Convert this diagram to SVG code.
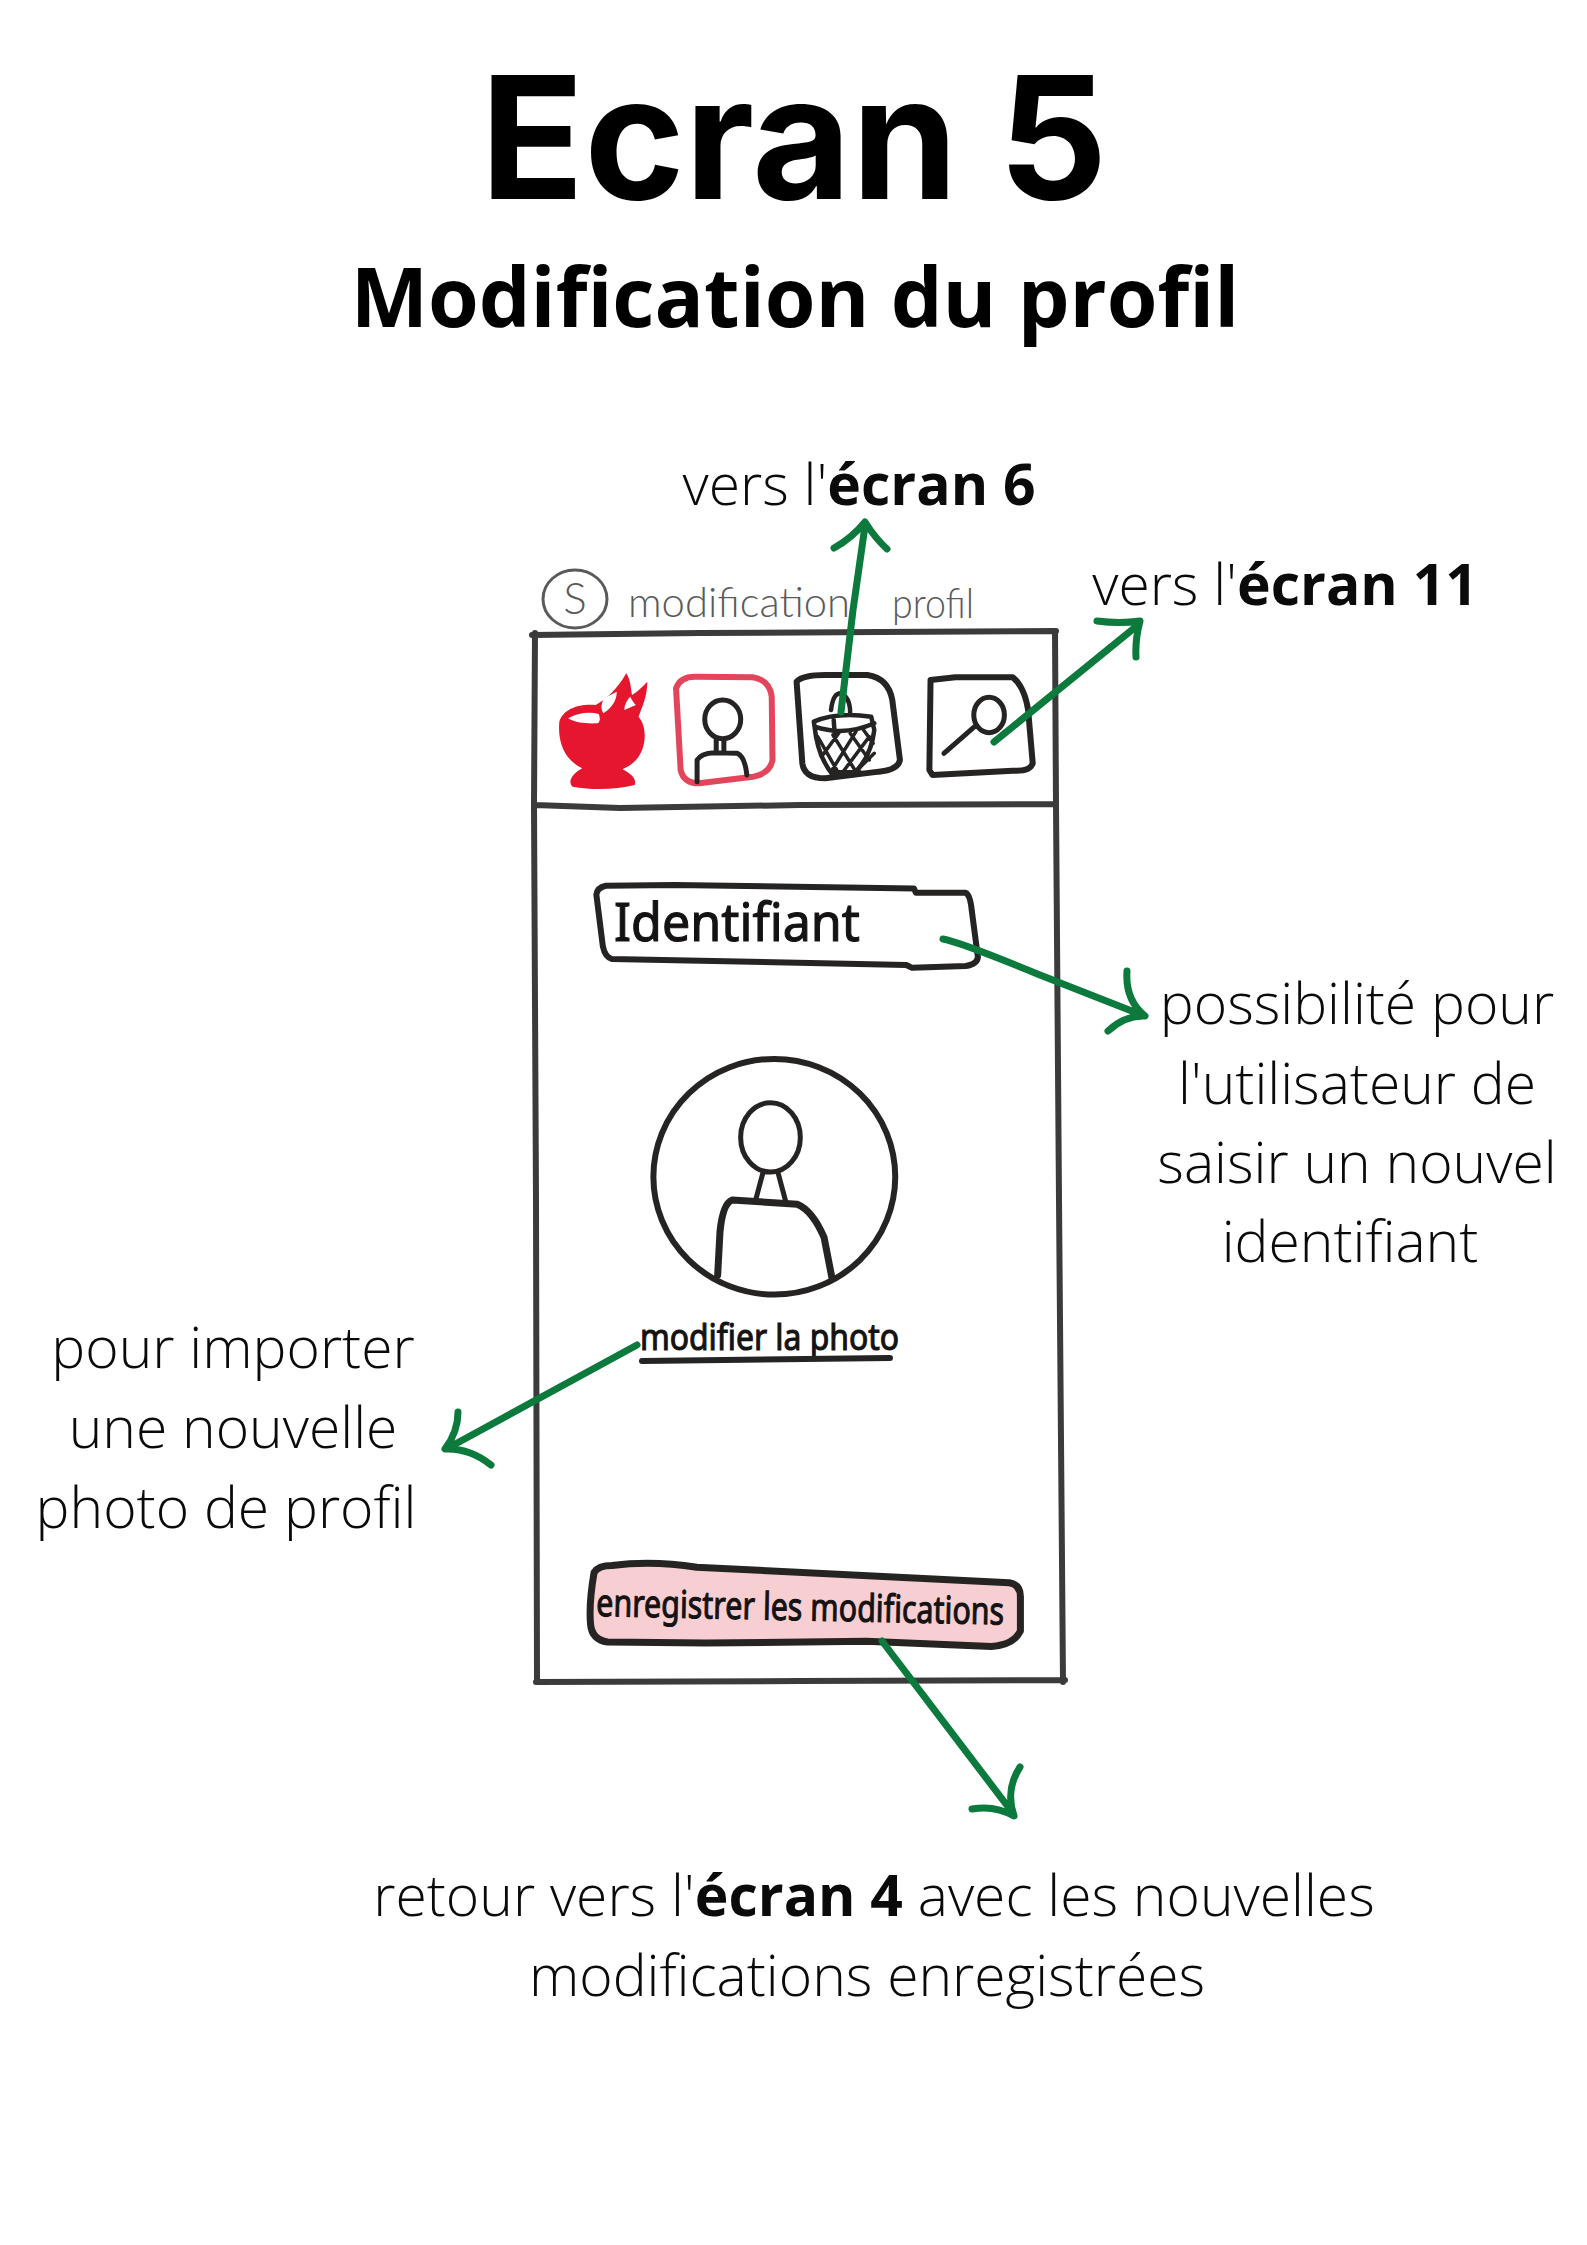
<svg xmlns="http://www.w3.org/2000/svg" width="1587" height="2245" viewBox="0 0 1587 2245">
<style>
.lbl{font-family:"Open Sans","Noto Sans",sans-serif;font-weight:300;font-size:57px;fill:#0a0a0a;text-anchor:middle}
.lbl tspan{font-weight:700}
.ink{fill:none;stroke:#262323;stroke-width:6;stroke-linecap:round;stroke-linejoin:round;vector-effect:non-scaling-stroke}
.wall{stroke:#3c3b3b}
.red{stroke:#e3465a}
.hand{font-family:"Noto Sans",sans-serif;fill:#141212;stroke:#141212;stroke-width:1.1}
.pencil{font-family:"Lato","Noto Sans",sans-serif;font-weight:300;fill:#5a5a5a;stroke:none}
.arrow{fill:none;stroke:#0b7a3c;stroke-width:7;stroke-linecap:round;stroke-linejoin:round}
</style>
<rect width="1587" height="2245" fill="#fff"/>
<g id="title"><text x="794" y="199" text-anchor="middle" font-family="Inter,'Liberation Sans',sans-serif" font-weight="700" font-size="171" fill="#000">Ecran 5</text>
<text x="795" y="327" text-anchor="middle" font-family="'Open Sans','Noto Sans',sans-serif" font-weight="700" font-size="82" fill="#000">Modification du profil</text></g>

<g id="phone">
<path class="ink wall" d="M532 635 L700 633 L880 632 L1056 631 M535 633 L534 805 L536 1200 L537 1682 M1055 631 L1056 805 L1059 1200 L1063 1682 M535 805 L620 808 L800 805 L1056 804 M536 1682 L800 1681 L1065 1680"/>
</g>
<g id="screen-title">
<ellipse class="ink" cx="575" cy="599" rx="32" ry="29" style="stroke:#5a5a5a;stroke-width:3"/>
<text x="575" y="614" text-anchor="middle" class="pencil" font-size="44">S</text>
<text x="628" y="617" class="pencil" font-size="42" textLength="222" lengthAdjust="spacingAndGlyphs">modification</text>
<text x="892" y="618" class="pencil" font-size="42" textLength="82" lengthAdjust="spacingAndGlyphs">profil</text>
</g>
<g id="icon-mortar" transform="translate(500 540) scale(.3827 .3333)">
<path d="M155 545 C165 505 210 490 250 495 C275 480 305 450 330 400 C342 420 342 450 345 465 C360 455 372 440 385 425 C385 470 370 505 362 530 C385 560 382 620 362 650 C350 670 335 680 320 688 C340 700 358 715 352 735 C300 750 240 750 190 740 C175 725 190 700 215 685 C170 660 150 610 155 545Z" fill="#e5162e"/>
<path d="M178 535 C205 518 235 515 258 522 C262 535 262 545 255 550 C225 552 195 548 178 535Z" fill="#fff"/>
<path d="M272 475 C285 465 295 462 305 455 C305 480 295 500 270 520 C262 505 265 490 272 475Z M340 470 C345 480 350 490 355 495 C345 500 335 505 325 510 C325 495 332 480 340 470Z" fill="#fff"/>
</g>
<g id="icon-profile" transform="translate(500 540) scale(.3827 .3333)">
<path class="ink red" d="M460 445 Q470 410 510 410 L660 412 Q705 420 710 470 L712 660 Q705 705 650 712 L520 730 Q480 730 472 690Z"/>
<ellipse class="ink" style="stroke-width:5" cx="582" cy="538" rx="47" ry="58"/>
<path class="ink" style="stroke-width:5" d="M565 598 L565 635 M585 598 L585 635 M515 725 L515 660 Q525 640 560 638 L620 640 Q640 650 645 705"/>
</g>
<g id="icon-basket" transform="translate(500 540) scale(.3827 .3333)">
<path class="ink" d="M775 425 Q790 405 850 405 L960 405 Q1015 415 1025 480 L1045 660 Q1040 690 990 695 L850 715 Q795 715 790 670Z"/>
<path class="ink" style="stroke-width:4.5" d="M865 510 Q870 460 890 460 Q915 470 915 520 M820 545 Q880 515 970 530 L978 570 Q970 650 925 700 L870 705 Q830 650 822 560Z M822 560 Q900 590 978 550 M872 540 L875 590"/>
<path class="ink" style="stroke-width:3.5" d="M830 590 L885 700 M870 585 L930 695 M915 580 L965 660 M950 570 L975 610 M965 590 L890 705 M930 575 L865 695 M885 580 L840 650 M978 640 L925 700"/>
<path d="M855 690 L945 690 L925 712 L870 712Z" fill="#262323"/>
</g>
<g id="icon-search" transform="translate(500 540) scale(.3827 .3333)">
<path class="ink" d="M1125 420 L1190 412 L1340 412 Q1370 440 1380 510 L1392 670 Q1385 695 1340 692 L1130 705 L1122 690Z"/>
<ellipse class="ink" style="stroke-width:5" cx="1278" cy="525" rx="40" ry="53"/>
<path class="ink" style="stroke-width:5" d="M1240 560 L1160 640"/>
</g>
<g id="field-identifiant" transform="translate(560 850) scale(.3827 .3571)">
<path class="ink" d="M95 125 Q97 105 120 100 L300 98 L925 108 L930 120 L1060 120 Q1072 125 1076 170 L1092 300 Q1090 320 1060 325 L920 330 L905 322 L135 305 Q118 300 112 270 Z"/>
</g>
<text id="field-label" x="614" y="941" class="hand" font-size="52" textLength="246" lengthAdjust="spacingAndGlyphs">Identifiant</text>
<g id="avatar" transform="translate(560 850) scale(.3827 .3571)">
<ellipse class="ink" cx="560" cy="915" rx="316" ry="330"/>
<ellipse class="ink" style="stroke-width:5" cx="550" cy="805" rx="78" ry="97"/>
<path class="ink" style="stroke-width:5" d="M530 905 L510 985 M570 905 L590 985"/>
<path class="ink" style="stroke-width:7" d="M412 1190 L418 1070 Q425 990 450 980 L620 992 Q660 1010 690 1085 L710 1195"/>
</g>
<g id="photo-link">
<text x="640" y="1350" class="hand" font-size="36" textLength="259" lengthAdjust="spacingAndGlyphs">modifier la photo</text>
<path class="ink" d="M642 1361 L890 1358"/>
</g>
<g id="save-button" transform="translate(420 1300) scale(.4464 .3448)">
<path d="M390 790 Q400 770 430 770 Q520 755 620 775 L1320 820 Q1345 825 1345 860 L1345 960 Q1330 1000 1280 1005 L1000 990 L640 995 L420 992 Q385 985 382 940 Q378 880 390 790Z" fill="#f7cfd2" stroke="#262323" stroke-width="7" stroke-linejoin="round" style="vector-effect:non-scaling-stroke"/>
</g>
<text id="save-label" x="596" y="1616" class="hand" font-size="38" textLength="408" lengthAdjust="spacingAndGlyphs" transform="rotate(1.2 596 1616)">enregistrer les modifications</text>

<g id="connectors">
<path class="arrow" d="M841 712 L853 610 L865 526 M834 548 Q852 538 865 522 Q875 538 887 549"/>
<path class="arrow" d="M994 742 L1138 625 M1097 621 Q1120 624 1140 621 Q1135 640 1136 657"/>
<path class="arrow" d="M943 939 Q960 942 1040 975 L1142 1015 M1127 971 Q1125 1000 1145 1016 Q1125 1015 1108 1031"/>
<path class="arrow" d="M637 1345 L448 1448 M458 1412 Q458 1432 445 1449 Q470 1448 491 1465"/>
<path class="arrow" d="M882 1641 L1012 1812 M1020 1767 Q1005 1790 1014 1816 Q995 1805 972 1809"/>
</g>

<g id="labels">
<text class="lbl" x="859" y="505">vers l'<tspan>écran 6</tspan></text>
<text class="lbl" x="1285" y="605">vers l'<tspan>écran 11</tspan></text>
<text class="lbl" x="1357" y="1024">possibilité pour</text>
<text class="lbl" x="1357" y="1104">l'utilisateur de</text>
<text class="lbl" x="1357" y="1183">saisir un nouvel</text>
<text class="lbl" x="1350" y="1262">identifiant</text>
<text class="lbl" x="233" y="1368">pour importer</text>
<text class="lbl" x="233" y="1448">une nouvelle</text>
<text class="lbl" x="226" y="1528">photo de profil</text>
<text class="lbl" x="874" y="1916">retour vers l'<tspan>écran 4</tspan> avec les nouvelles</text>
<text class="lbl" x="867" y="1996">modifications enregistrées</text>
</g>
</svg>
